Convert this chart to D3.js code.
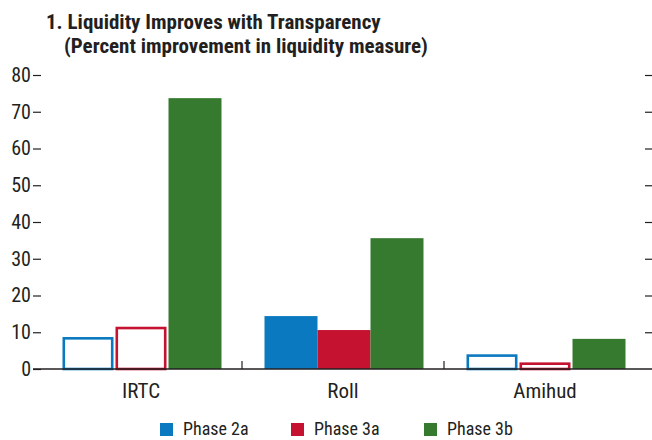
<!DOCTYPE html>
<html><head><meta charset="utf-8">
<script src="https://cdn.jsdelivr.net/npm/d3@7"></script>
<style>
body{margin:0;background:#fff;}
text{font-family:"Liberation Sans Narrow","Roboto Condensed","Arial Narrow",Arial,sans-serif;fill:#231f20;}
</style></head>
<body><svg id="c" width="652" height="440"></svg>
<script>
const categories = ["IRTC", "Roll", "Amihud"];
const seriesNames = ["Phase 2a", "Phase 3a", "Phase 3b"];
const phase2a = [8.7, 14.4, 4.0];
const phase3a = [11.5, 10.6, 1.8];
const phase3b = [73.7, 35.6, 8.2];
const outlined = [[true, false, true], [true, false, true], [false, false, false]]; // per series, per category
const yTicks = [0, 10, 20, 30, 40, 50, 60, 70, 80];
const colors = ["#0a79bf", "#c41230", "#367a2f"];
const titleLines = ["1. Liquidity Improves with Transparency", "(Percent improvement in liquidity measure)"];

const series = [phase2a, phase3a, phase3b];
const svg = d3.select("#c");

const x = d3.scaleBand().domain(categories).range([40, 646]).padding(0);
const xs = d3.scaleBand().domain(seriesNames).range([22.5, 181.5]).padding(0);
const y = d3.scaleLinear().domain([0, 80]).range([369, 75]);

// title
svg.append("text").attr("x", 46).attr("y", 29).attr("font-size", 21).attr("font-weight", "bold").text(titleLines[0]);
svg.append("text").attr("x", 64).attr("y", 53).attr("font-size", 21).attr("font-weight", "bold").text(titleLines[1]);

// bars
const sw = 2.6;
series.forEach((vals, si) => {
  categories.forEach((c, ci) => {
    const x0 = x(c) + xs(seriesNames[si]);
    const bw = xs.bandwidth();
    const v = vals[ci];
    if (outlined[si][ci]) {
      svg.append("rect")
        .attr("x", x0 + sw / 2).attr("y", y(v) + sw / 2)
        .attr("width", bw - sw - 2).attr("height", y(0) - y(v) - sw / 2)
        .attr("fill", "#fff").attr("stroke", colors[si]).attr("stroke-width", sw);
    } else {
      svg.append("rect")
        .attr("x", x0).attr("y", y(v))
        .attr("width", bw).attr("height", y(0) - y(v))
        .attr("fill", colors[si]);
    }
  });
});

// left axis
const left = svg.append("g").attr("transform", "translate(41,0)")
  .call(d3.axisLeft(y).tickValues(yTicks).tickSize(8).tickPadding(2).tickFormat(d3.format("d")));
left.select(".domain").remove();
left.selectAll("line").attr("stroke", "#231f20").attr("stroke-width", 1.2);
left.selectAll("text").attr("font-size", 20).attr("font-family", null).attr("fill", "#231f20");

// right axis ticks
const right = svg.append("g").attr("transform", "translate(645,0)")
  .call(d3.axisRight(y).tickValues(yTicks.slice(1)).tickSize(7).tickFormat(""));
right.select(".domain").remove();
right.selectAll("line").attr("stroke", "#231f20").attr("stroke-width", 1.2);

// baseline
svg.append("line").attr("x1", 33).attr("x2", 652).attr("y1", y(0)).attr("y2", y(0))
  .attr("stroke", "#231f20").attr("stroke-width", 1.6);

// category separators
categories.slice(1).forEach(c => {
  svg.append("line").attr("x1", x(c)).attr("x2", x(c)).attr("y1", y(0)).attr("y2", y(0) - 8)
    .attr("stroke", "#231f20").attr("stroke-width", 1.2);
});

// category labels
categories.forEach(c => {
  svg.append("text").attr("x", x(c) + x.bandwidth() / 2).attr("y", 398)
    .attr("text-anchor", "middle").attr("font-size", 21).text(c);
});

// legend
const legX = [160, 291, 424];
seriesNames.forEach((s, i) => {
  svg.append("rect").attr("x", legX[i]).attr("y", 423).attr("width", 13).attr("height", 13).attr("fill", colors[i]);
  svg.append("text").attr("x", legX[i] + 23).attr("y", 435).attr("font-size", 18).text(s);
});
</script></body></html>
